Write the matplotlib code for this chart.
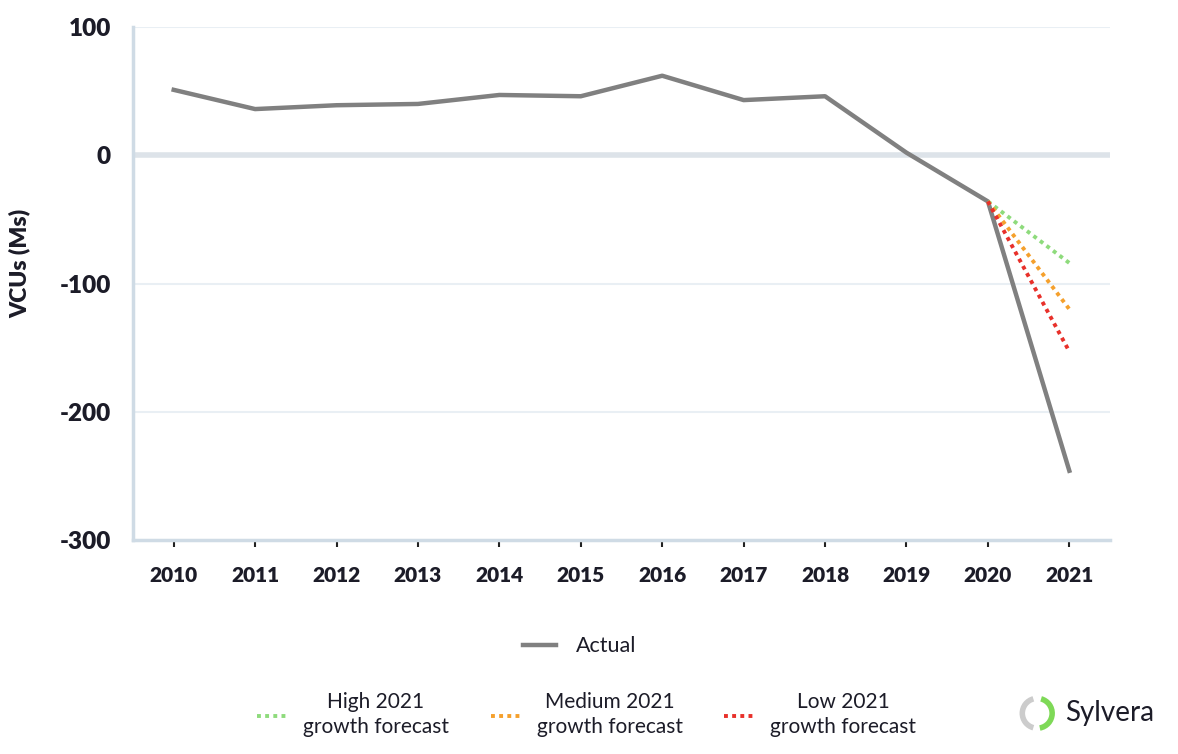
import matplotlib
matplotlib.use('Agg')
import matplotlib.pyplot as plt
from matplotlib.patches import Arc

# Dados
years = [2010, 2011, 2012, 2013, 2014, 2015, 2016, 2017, 2018, 2019, 2020, 2021]
actual = [51, 36, 39, 40, 47, 46, 62, 43, 46, 2, -36, -246]
forecast_years = [2020, 2021]
high_fc = [-36, -84]
medium_fc = [-36, -120]
low_fc = [-36, -153]
yticks = [100, 0, -100, -200, -300]

plt.rcParams['font.family'] = ['Lato', 'DejaVu Sans']
plt.rcParams['axes.unicode_minus'] = False

fig = plt.figure(figsize=(11.78, 7.54), dpi=100)
ax = fig.add_axes([0.1129, 0.2838, 0.8294, 0.6804])

grey = '#808080'
green = '#8edb7c'
orange = '#f5a02c'
red = '#e8302a'
dots = (0, (1, 1.1))

# Linhas de grade
for v in yticks[:-1]:
    if v == 0:
        ax.axhline(v, color='#dde3e9', lw=4, zorder=1)
    else:
        ax.axhline(v, color='#e9eff4', lw=1.5, zorder=1)

l_actual, = ax.plot(years, actual, color=grey, lw=3.2, zorder=3, label='Actual')
l_high, = ax.plot(forecast_years, high_fc, color=green, lw=2.8, ls=dots, zorder=4,
                  label='High 2021\ngrowth forecast')
l_med, = ax.plot(forecast_years, medium_fc, color=orange, lw=2.8, ls=dots, zorder=4,
                 label='Medium 2021\ngrowth forecast')
l_low, = ax.plot(forecast_years, low_fc, color=red, lw=2.8, ls=dots, zorder=4,
                 label='Low 2021\ngrowth forecast')

ax.set_xlim(2009.5, 2021.5)
ax.set_ylim(-300, 100)
ax.set_xticks(years)
ax.set_yticks(yticks)
ax.tick_params(axis='x', length=5, width=1.5, color='#222222', pad=14,
               labelsize=15, labelcolor='#1c1c28')
ax.tick_params(axis='y', length=0, pad=16, labelsize=17.5, labelcolor='#1c1c28')
for lab in ax.get_xticklabels() + ax.get_yticklabels():
    lab.set_fontweight('heavy')
ax.set_ylabel('VCUs (Ms)', fontsize=16.5, fontweight='heavy', color='#1c1c28')
ax.yaxis.set_label_coords(-0.105, 0.54)

for s in ['top', 'right']:
    ax.spines[s].set_visible(False)
for s in ['left', 'bottom']:
    ax.spines[s].set_color('#cfdbe5')
    ax.spines[s].set_linewidth(2.5)

# Legendas
leg1 = fig.legend(handles=[l_actual], loc='center', bbox_to_anchor=(0.492, 0.143),
                  frameon=False, fontsize=15.5, handlelength=1.55, handletextpad=0.9)
leg2 = fig.legend(handles=[l_high, l_med, l_low], loc='center', ncol=3,
                  bbox_to_anchor=(0.498, 0.052), frameon=False, fontsize=15,
                  handlelength=1.45, handletextpad=0.75, columnspacing=2.0,
                  labelspacing=0.6)
for t in leg2.get_texts():
    t.set_multialignment('center')
    t.set_linespacing(1.3)
for t in leg1.get_texts() + leg2.get_texts():
    t.set_color('#1c1c28')

# Logo Sylvera
lax = fig.add_axes([0.8625, 0.029, 0.036, 0.05])
lax.set_xlim(-1.2, 1.2)
lax.set_ylim(-1.2, 1.2)
lax.set_aspect('equal')
lax.axis('off')
lax.add_patch(Arc((0, 0), 1.9, 1.9, theta1=105, theta2=255, color='#cccccc', lw=4))
lax.add_patch(Arc((0, 0), 1.9, 1.9, theta1=-80, theta2=75, color='#7ed957', lw=4))
fig.text(0.904, 0.055, 'Sylvera', fontsize=20, color='#1c1c28', va='center', ha='left')

fig.savefig('out.png', dpi=100)
